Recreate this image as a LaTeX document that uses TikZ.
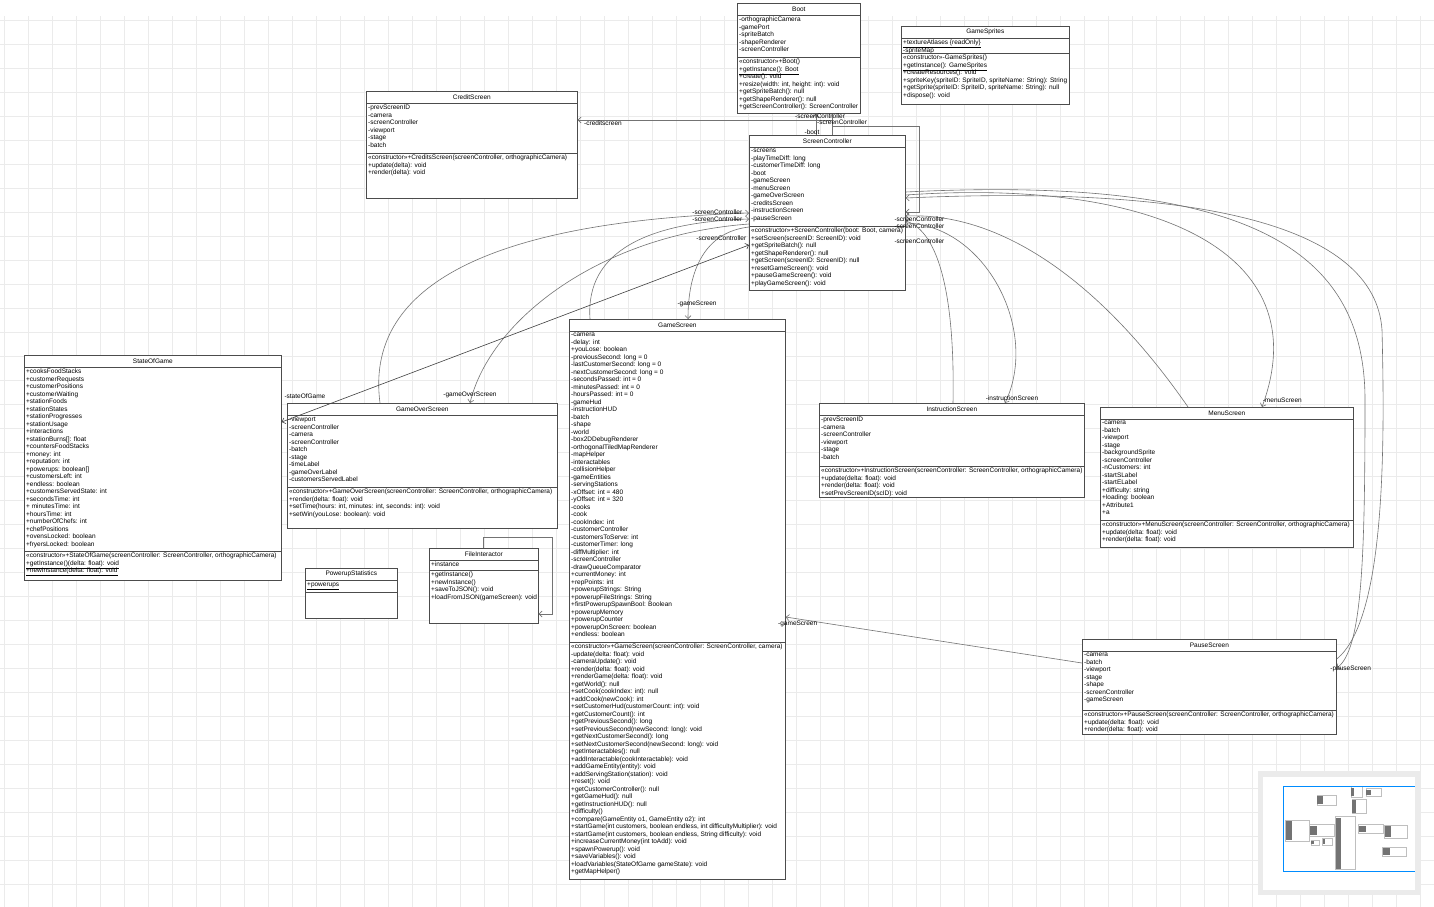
\documentclass[tikz,border=0pt]{standalone}
\usepackage{fontspec}
\setmainfont{Liberation Sans}
\usetikzlibrary{arrows.meta, calc, positioning}

\tikzset{
  classbox/.style={draw=black!70, fill=white, line width=0.7pt, anchor=north west, inner sep=0pt},
  classtitle/.style={font=\fontsize{6.5}{7.5}\selectfont, inner sep=0pt},
  members/.style={font=\fontsize{6.5}{7.5}\selectfont, align=left, anchor=north west, inner sep=0pt},
  classline/.style={draw=black!70, line width=0.5pt},
  assoc/.style={draw=black!55, line width=0.6pt, -{Straight Barb[length=3pt,width=6pt]}},
  role/.style={font=\fontsize{6.5}{7}\selectfont, inner sep=0.5pt},
  gridline/.style={draw=black!8, line width=0.4pt},
}

% static members are underlined without changing the line spacing
\newcommand{\ulitem}[1]{\vphantom{A}\smash{\underline{#1}}}

% one class: name, top left corner, width, height, second rule, title, attributes, operations
\newcommand{\umlclass}[8]{%
  \node[classbox, minimum width=#3, minimum height=#4] (#1) at (#2) {};
  \node[classtitle] (#1-title) at ([yshift=-6]#1.north) {#6};
  \draw[classline] ([yshift=-12]#1.north west) -- ([yshift=-12]#1.north east);
  \node[members] (#1-attr) at ([xshift=2,yshift=-14]#1.north west) {#7};
  \draw[classline] ([yshift=-#5]#1.north west) -- ([yshift=-#5]#1.north east);
  \node[members] (#1-ops) at ([xshift=2,yshift=-#5-2]#1.north west) {#8};
}

\begin{document}
\begin{tikzpicture}[x=1pt, y=-1pt]
  \useasboundingbox (0,0) rectangle (1434,906);
  \fill[white] (0,0) rectangle (1434,906);
  \draw[gridline, xshift=4pt, yshift=-20pt] (-4,-4) grid[step=24pt] (1434,906);

  % classes
  \umlclass{boot}{737,3}{123}{110}{54}{Boot}{-orthographicCamera\\-gamePort\\-spriteBatch\\-shapeRenderer\\-screenController}{«constructor»+Boot()\\\ulitem{+getInstance(): Boot}\\+create(): void\\+resize(width: int, height: int): void\\+getSpriteBatch(): null\\+getShapeRenderer(): null\\+getScreenController(): ScreenController}
  \umlclass{sprites}{901,26}{168}{78}{27}{GameSprites}{\ulitem{+textureAtlases \{readOnly\}}\\-spriteMap}{«constructor»-GameSprites()\\\ulitem{+getInstance(): GameSprites}\\+createResources(): void\\+spriteKey(spriteID: SpriteID, spriteName: String): String\\+getSprite(spriteID: SpriteID, spriteName: String): null\\+dispose(): void}
  \umlclass{credits}{366,91}{211}{107}{62}{CreditScreen}{-prevScreenID\\-camera\\-screenController\\-viewport\\-stage\\-batch}{«constructor»+CreditsScreen(screenController, orthographicCamera)\\+update(delta): void\\+render(delta): void}
  \umlclass{sc}{749,135}{156}{155}{91}{ScreenController}{-screens\\-playTimeDiff: long\\-customerTimeDiff: long\\-boot\\-gameScreen\\-menuScreen\\-gameOverScreen\\-creditsScreen\\-instructionScreen\\-pauseScreen}{«constructor»+ScreenController(boot: Boot, camera)\\+setScreen(screenID: ScreenID): void\\+getSpriteBatch(): null\\+getShapeRenderer(): null\\+getScreen(screenID: ScreenID): null\\+resetGameScreen(): void\\+pauseGameScreen(): void\\+playGameScreen(): void}
  \umlclass{state}{24,355}{257}{225}{196}{StateOfGame}{+cooksFoodStacks\\+customerRequests\\+customerPositions\\+customerWaiting\\+stationFoods\\+stationStates\\+stationProgresses\\+stationUsage\\+interactions\\+stationBurns[]: float\\+countersFoodStacks\\+money: int\\+reputation: int\\+powerups: boolean[]\\+customersLeft: int\\+endless: boolean\\+customersServedState: int\\+secondsTime: int\\+ minutesTime: int\\+hoursTime: int\\+numberOfChefs: int\\+chefPositions\\+ovensLocked: boolean\\+fryersLocked: boolean}{«constructor»+StateOfGame(screenController: ScreenController, orthographicCamera)\\\ulitem{+getInstance()(delta: float): void}\\\ulitem{+newInstance(delta: float): void}}
  \umlclass{over}{287,403}{270}{125}{84}{GameOverScreen}{-viewport\\-screenController\\-camera\\-screenController\\-batch\\-stage\\-timeLabel\\-gameOverLabel\\-customersServedLabel}{«constructor»+GameOverScreen(screenController: ScreenController, orthographicCamera)\\+render(delta: float): void\\+setTime(hours: int, minutes: int, seconds: int): void\\+setWin(youLose: boolean): void}
  \umlclass{game}{569,319}{216}{560}{323}{GameScreen}{-camera\\-delay: int\\+youLose: boolean\\-previousSecond: long = 0\\-lastCustomerSecond: long = 0\\-nextCustomerSecond: long = 0\\-secondsPassed: int = 0\\-minutesPassed: int = 0\\-hoursPassed: int = 0\\-gameHud\\-instructionHUD\\-batch\\-shape\\-world\\-box2DDebugRenderer\\-orthogonalTiledMapRenderer\\-mapHelper\\-interactables\\-collisionHelper\\-gameEntities\\-servingStations\\-xOffset: int = 480\\-yOffset: int = 320\\-cooks\\-cook\\-cookIndex: int\\-customerController\\-customersToServe: int\\-customerTimer: long\\-diffMultiplier: int\\-screenController\\-drawQueueComparator\\+currentMoney: int\\+repPoints: int\\+powerupStrings: String\\+powerupFileStrings: String\\+firstPowerupSpawnBool: Boolean\\+powerupMemory\\+powerupCounter\\+powerupOnScreen: boolean\\+endless: boolean}{«constructor»+GameScreen(screenController: ScreenController, camera)\\-update(delta: float): void\\-cameraUpdate(): void\\+render(delta: float): void\\+renderGame(delta: float): void\\+getWorld(): null\\+setCook(cookIndex: int): null\\+addCook(newCook): int\\+setCustomerHud(customerCount: int): void\\+getCustomerCount(): int\\+getPreviousSecond(): long\\+setPreviousSecond(newSecond: long): void\\+getNextCustomerSecond(): long\\+setNextCustomerSecond(newSecond: long): void\\+getInteractables(): null\\+addInteractable(cookInteractable): void\\+addGameEntity(entity): void\\+addServingStation(station): void\\+reset(): void\\+getCustomerController(): null\\+getGameHud(): null\\+getInstructionHUD(): null\\+difficulty()\\+compare(GameEntity o1, GameEntity o2): int\\+startGame(int customers, boolean endless, int difficultyMultiplier): void\\+startGame(int customers, boolean endless, String difficulty): void\\+increaseCurrentMoney(int toAdd): void\\+spawnPowerup(): void\\+saveVariables(): void\\+loadVariables(StateOfGame gameState): void\\+getMapHelper()}
  \umlclass{instr}{819,403}{265}{94}{63}{InstructionScreen}{-prevScreenID\\-camera\\-screenController\\-viewport\\-stage\\-batch}{«constructor»+InstructionScreen(screenController: ScreenController, orthographicCamera)\\+update(delta: float): void\\+render(delta: float): void\\+setPrevScreenID(scID): void}
  \umlclass{menu}{1100,407}{253}{140}{113}{MenuScreen}{-camera\\-batch\\-viewport\\-stage\\-backgroundSprite\\-screenController\\-nCustomers: int\\-startSLabel\\-startELabel\\+difficulty: string\\+loading: boolean\\+Attribute1\\+a}{«constructor»+MenuScreen(screenController: ScreenController, orthographicCamera)\\+update(delta: float): void\\+render(delta: float): void}
  \umlclass{pause}{1082,639}{254}{95}{71}{PauseScreen}{-camera\\-batch\\-viewport\\-stage\\-shape\\-screenController\\-gameScreen}{«constructor»+PauseScreen(screenController: ScreenController, orthographicCamera)\\+update(delta: float): void\\+render(delta: float): void}
  \umlclass{powerup}{305,568}{92}{50}{24}{PowerupStatistics}{\ulitem{+powerups}}{}
  \umlclass{files}{429,548}{109}{75}{22}{FileInteractor}{+instance}{+getInstance()\\+newInstance()\\+saveToJSON(): void\\+loadFromJSON(gameScreen): void}

  % Boot and ScreenController
  \draw[assoc] ($(sc.north west)+(67,0)$) -- ($(boot.south west)+(79,0)$) node[role, pos=0.25, xshift=-4, yshift=-2] {-boot};
  \draw[assoc] ($(boot.south west)+(95,0)$) |- (919,126) |- ($(sc.north east)+(0,77)$);
  \draw[assoc] ($(sc.north west)+(83,0)$) |- ($(credits.north east)+(0,29)$) node[role, pos=0.97, below, xshift=10] {-creditscreen};
  \node[role] (boot-role1) at (820,116) {-screenController};
  \node[role] (boot-role2) at (842,122) {-screenController};

  % left side of ScreenController
  \draw[assoc] ($(over.north west)+(93,0)$) .. controls (365,290) and (480,222) .. ($(sc.north west)+(0,78)$) node[role, at end, anchor=east, xshift=-6, yshift=1] {-screenController};
  \draw[assoc] ($(game.north west)+(21,0)$) .. controls (585,250) and (650,222) .. ($(sc.north west)+(0,84)$) node[role, at end, anchor=east, xshift=-6] {-screenController};
  \draw[assoc] ($(sc.north west)+(0,89)$) .. controls (600,235) and (490,320) .. ($(over.north west)+(183,0)$) node[role, at end, anchor=south, yshift=4] {-gameOverScreen};
  \draw[assoc] ($(sc.north west)+(0,92)$) .. controls (705,232) and (688,270) .. ($(game.north west)+(119,0)$) node[role, at end, anchor=south, xshift=9, yshift=11] {-gameScreen};
  \draw[assoc, {Straight Barb[length=3pt,width=6pt]}-{Straight Barb[length=3pt,width=6pt]}, draw=black!75] ($(state.north east)+(0,67)$) -- ($(sc.north west)+(0,110)$) node[role, at start, anchor=south west, xshift=2, yshift=23] {-stateOfGame} node[role, at end, anchor=east, xshift=-2, yshift=7] {-screenController};

  % right side of ScreenController
  \draw[assoc] ($(sc.north east)+(0,60)$) .. controls (1150,178) and (1320,250) .. ($(menu.north west)+(162,0)$) node[role, at end, anchor=south west, xshift=0, yshift=4] {-menuScreen};
  \draw[assoc] ($(menu.north west)+(88,0)$) .. controls (1100,280) and (1000,212) .. ($(sc.north east)+(0,81)$) node[role, at end, anchor=west, xshift=-12, yshift=-10] {-screenController};
  \draw[assoc] ($(sc.north east)+(0,88)$) .. controls (985,225) and (1040,330) .. ($(instr.north west)+(186,0)$) node[role, at end, anchor=south, xshift=7, yshift=2] {-instructionScreen};
  \draw[assoc] ($(instr.north west)+(134,0)$) .. controls (955,300) and (940,232) .. ($(sc.north east)+(0,86)$) node[role, at end, anchor=west, xshift=-12, yshift=-20] {-screenController};
  \draw[assoc] ($(sc.north east)+(0,57)$) .. controls (1250,175) and (1365,250) .. (1365,400) .. controls (1365,560) and (1362,650) .. ($(pause.north east)+(0,29)$) node[role, at end, anchor=center, xshift=14, yshift=-1] {-pauseScreen};
  \draw[assoc] ($(pause.north east)+(0,20)$) .. controls (1385,620) and (1385,450) .. (1382,330) .. controls (1375,225) and (1200,185) .. ($(sc.north east)+(0,63)$) node[role, at end, anchor=west, xshift=-12, yshift=-21] {-screenController};

  % PauseScreen to GameScreen
  \draw[assoc] ($(pause.north west)+(0,24)$) -- ($(game.north east)+(0,298)$) node[role, at end, anchor=north, xshift=12, yshift=-3] {-gameScreen};

  % FileInteractor self link
  \draw[assoc] ($(files.north west)+(54,0)$) -- ++(0,-11) -| ($(files.north east)+(14,66)$) -- ($(files.north east)+(0,66)$);

  % overview panel
  \fill[black!8] (1258,771) rectangle (1421,895);
  \fill[white] (1263,777) rectangle (1415,890);
  \begin{scope}[shift={(1283,786)}, x=0.092pt, y=-0.095pt]
    \foreach \l/\t/\r/\b in {737/3/860/113, 901/26/1069/104, 366/91/577/198, 749/135/905/290, 24/355/281/580, 287/403/557/528, 569/319/785/879, 819/403/1084/497, 1100/407/1353/547, 1082/639/1336/734, 305/568/397/618, 429/548/538/623} {
      \draw[black!25, line width=0.2pt] (\l,\t) rectangle (\r,\b);
      \fill[black!55] (\l+4,\t+14) rectangle ({\l+0.3*(\r-\l)},\b-10);
    }
  \end{scope}
  \draw[blue!45!cyan, line width=1pt] (1415,786) -- (1283,786) -- (1283,871) -- (1415,871);
\end{tikzpicture}
\end{document}
